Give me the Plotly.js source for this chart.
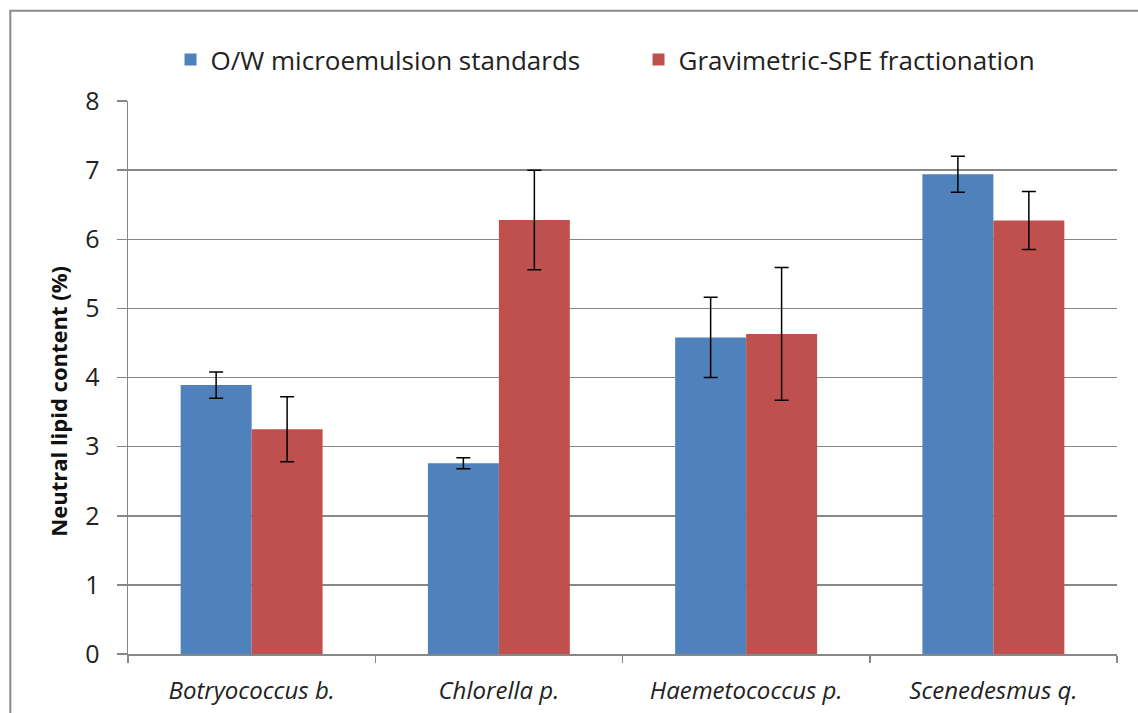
<!DOCTYPE html>
<html>
<head>
<meta charset="utf-8">
<script src="https://cdn.plot.ly/plotly-3.0.1.min.js"></script>
<style>
  html, body { margin: 0; padding: 0; background: #fff; }
  #chart { width: 1138px; height: 713px; }
</style>
</head>
<body>
<div id="chart"></div>
<script>
// 데이터
const species = ["Botryococcus b.", "Chlorella p.", "Haemetococcus p.", "Scenedesmus q."];
const owValues = [3.89, 2.76, 4.58, 6.94];
const owErrors = [0.19, 0.08, 0.58, 0.26];
const speValues = [3.25, 6.28, 4.63, 6.27];
const speErrors = [0.47, 0.72, 0.96, 0.42];
const seriesNames = ["O/W microemulsion standards", "Gravimetric-SPE fractionation"];
const yTicks = [0, 1, 2, 3, 4, 5, 6, 7, 8];
const yTitle = "Neutral lipid content (%)";

const baseFont = "'Open Sans', 'Liberation Sans', sans-serif";
const gridGray = "#878787";

const traces = [
    {
        type: "bar",
        x: species,
        y: owValues,
        name: seriesNames[0],
        marker: {color: "#4F81BD"},
        error_y: {type: "data", array: owErrors, visible: true, color: "#000", thickness: 1.5, width: 7}
    },
    {
        type: "bar",
        x: species,
        y: speValues,
        name: seriesNames[1],
        marker: {color: "#C0504D"},
        error_y: {type: "data", array: speErrors, visible: true, color: "#000", thickness: 1.5, width: 7}
    }
];

const layout = {
    width: 1138,
    height: 713,
    margin: {l: 128, r: 21, t: 101, b: 59, autoexpand: false},
    paper_bgcolor: "white",
    plot_bgcolor: "white",
    barmode: "group",
    bargap: 0.426,
    bargroupgap: 0,
    font: {family: baseFont, color: "#222"},
    legend: {
        orientation: "h",
        x: 0.043,
        xanchor: "left",
        y: 1.075,
        yanchor: "middle",
        bgcolor: "rgba(0,0,0,0)",
        font: {size: 26, color: "#222"},
        entrywidth: 423,
        itemwidth: 30,
        traceorder: "normal"
    },
    xaxis: {
        type: "category",
        tickfont: {size: 24, style: "italic", color: "#222"},
        ticks: "outside",
        tickson: "boundaries",
        ticklen: 7,
        tickcolor: gridGray,
        tickwidth: 1.5,
        ticklabelstandoff: 15,
        showline: true,
        linecolor: gridGray,
        linewidth: 1.5,
        showgrid: false
    },
    yaxis: {
        range: [0, 8],
        tickvals: yTicks,
        tickfont: {size: 25, color: "#222"},
        ticks: "outside",
        ticklen: 10,
        tickcolor: gridGray,
        tickwidth: 1.5,
        ticklabelstandoff: 12,
        showline: true,
        linecolor: gridGray,
        linewidth: 1.5,
        showgrid: true,
        gridcolor: gridGray,
        gridwidth: 1.5,
        zeroline: false
    },
    annotations: [
        // 세로축 제목 (원본처럼 약간 아래쪽에 위치)
        {
            text: "<b>" + yTitle + "</b>",
            xref: "paper", yref: "paper",
            x: -0.0708, y: 0.458,
            xanchor: "center", yanchor: "middle",
            textangle: -90,
            showarrow: false,
            font: {size: 22, color: "#111"}
        }
    ],
    shapes: [
        // 바깥 테두리 (차트 영역 프레임)
        {
            type: "rect", xref: "paper", yref: "paper",
            x0: -0.119, x1: 1.1, y0: -0.3, y1: 1.163,
            line: {color: "#8a8a8a", width: 2},
            layer: "below"
        }
    ],
    showlegend: true
};

Plotly.newPlot("chart", traces, layout, {displayModeBar: false, staticPlot: true});
</script>
</body>
</html>
